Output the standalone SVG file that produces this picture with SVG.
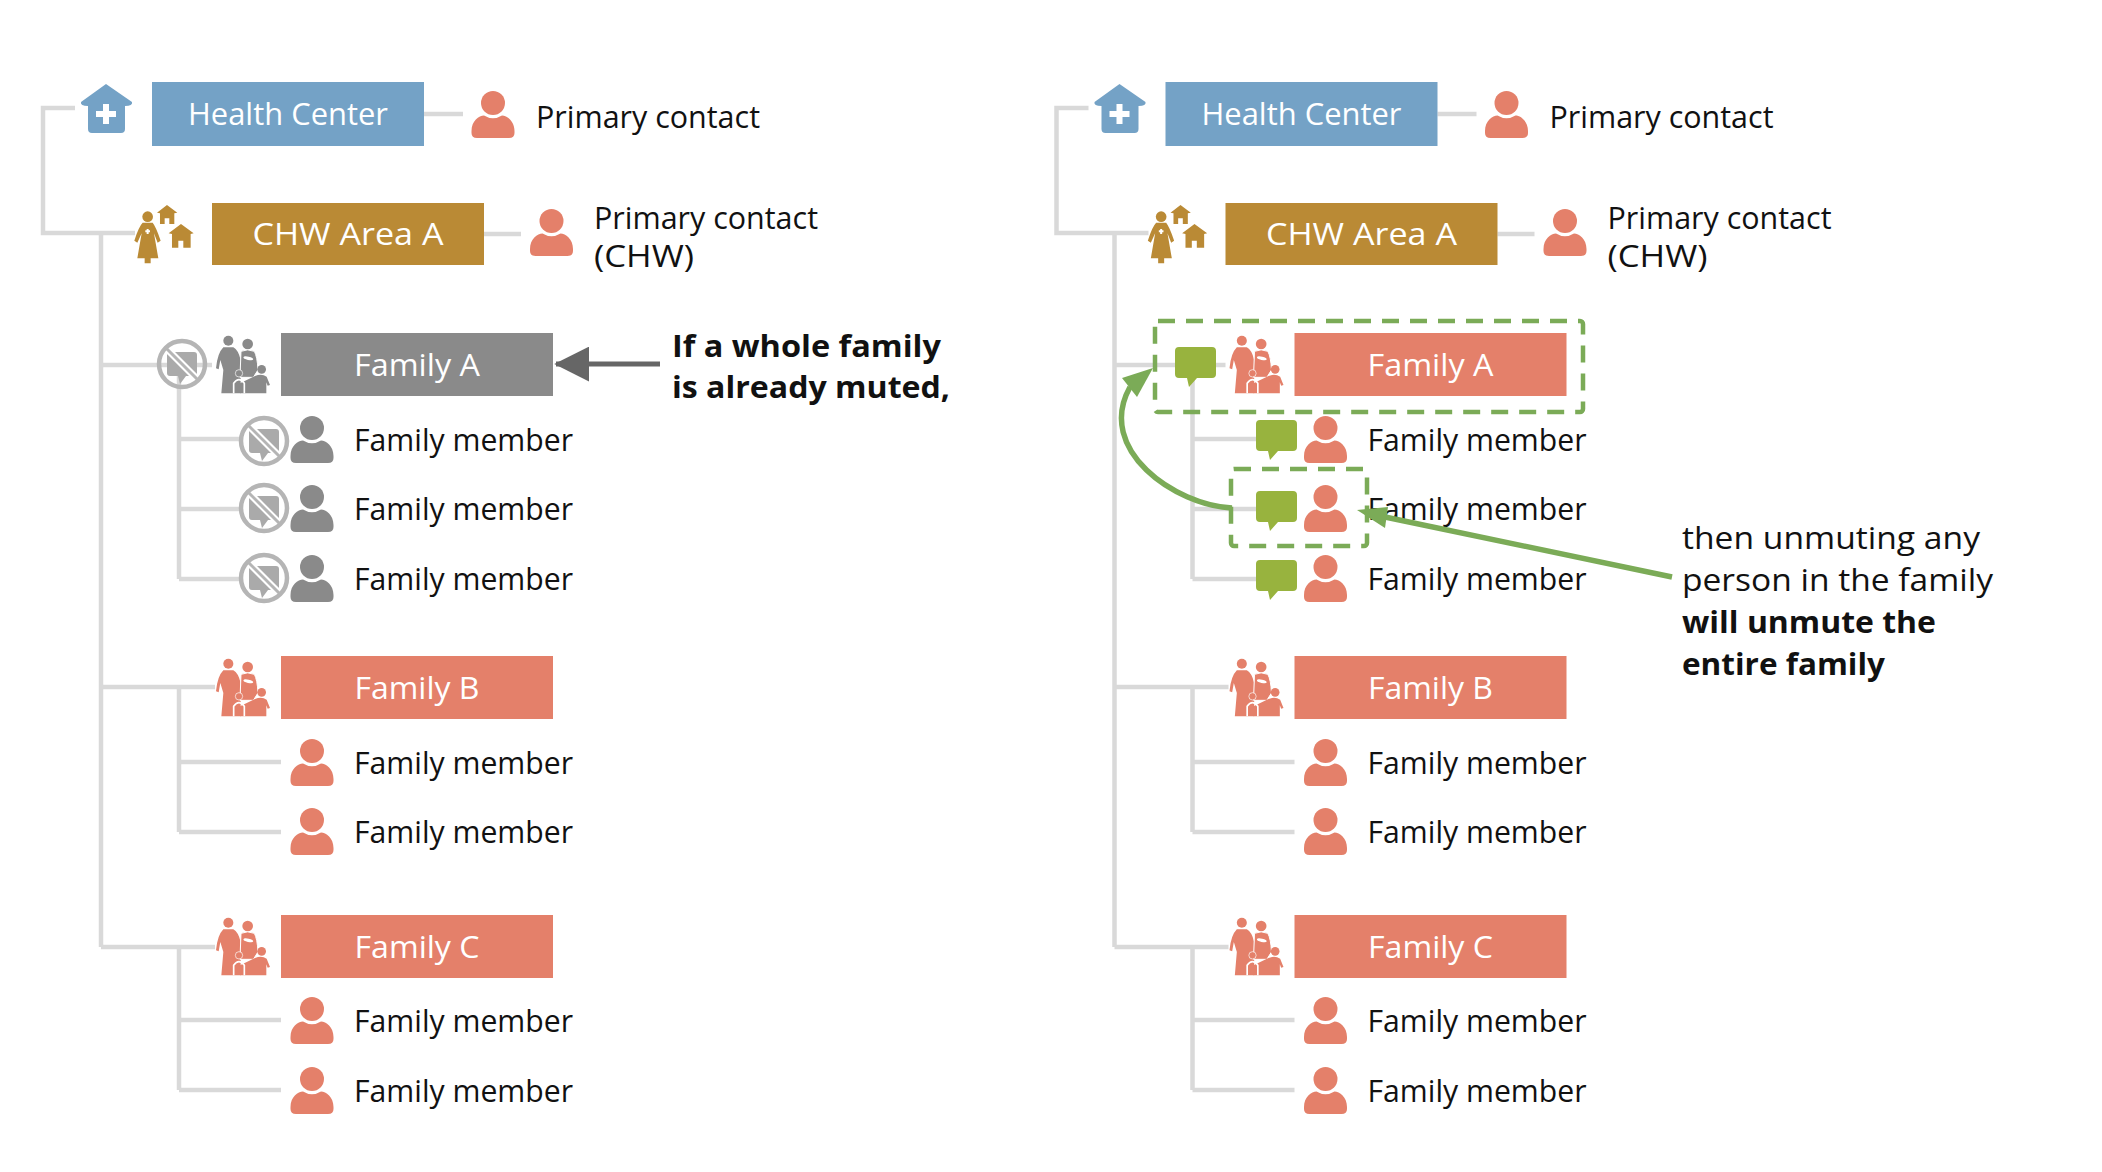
<svg xmlns="http://www.w3.org/2000/svg" width="2102" height="1172" viewBox="0 0 2102 1172">
<style>
text{font-family:"Open Sans","Noto Sans","Liberation Sans",sans-serif;}
.t{font-size:31px;fill:#111;}
.lab{font-size:31px;fill:#fff;text-anchor:middle;font-weight:500;}
.b{font-weight:700;}
.blue{fill:#74a2c6;}.gold{fill:#ba8a35;}.red{fill:#e4806a;}.gray{fill:#8a8a8a;}.green{fill:#98b33e;}
.conn{fill:none;stroke:#d9d9d9;stroke-width:4.5;}
.dash{fill:none;stroke:#7bab57;stroke-width:4.5;stroke-dasharray:17 11;}
.ann{fill:none;stroke:#7bab57;stroke-width:5.5;}
</style>
<defs>
<g id="person"><circle cx="0" cy="0" r="12"/><path d="M-21.5,28C-21.5,18 -14,12.500 -9,12.500Q0,18 9,12.500C14,12.500 21.500,18 21.500,28V30Q21.500,35 16,35H-16Q-21.500,35 -21.500,30Z"/></g>
<g id="bubble"><path d="M4,0H37Q41,0 41,4V27Q41,31 37,31H22L14,40L12,31H4Q0,31 0,27V4Q0,0 4,0Z"/></g>
<g id="muted"><path d="M-12,-12H12Q15,-12 15,-9V9Q15,12 12,12H4L-2,20L-4,12H-12Q-15,12 -15,9V-9Q-15,-12 -12,-12Z" fill="#aaa"/><path d="M-16,-16L16,16" stroke="#fff" stroke-width="7"/><path d="M-17,-17L17,17" stroke="#b5b5b5" stroke-width="3"/><circle r="23" fill="none" stroke="#b5b5b5" stroke-width="4.500"/></g>
<g id="fam" transform="scale(.3333) translate(-228,-48)">
<circle cx="265" cy="62" r="15"/><path d="M250,82L280,82Q295,90 302,120V220H244L250,150L241,120L236,148L228,145Q232,100 250,82Z"/>
<circle cx="323" cy="72" r="16"/><path d="M303,94Q323,85 343,94Q352,110 354,150L340,172H300Z" stroke="#fff" stroke-width="3"/>
<ellipse cx="325" cy="115" rx="15" ry="5" fill="#fff" transform="rotate(12 325 115)"/>
<circle cx="365" cy="148" r="13"/><path d="M345,168Q365,160 380,170L390,195L383,197L379,187V220H300V190L345,168Z"/>
<path d="M281,220V190Q297,168 313,190V220" fill="none" stroke="#fff" stroke-width="5"/><circle cx="297" cy="160" r="11" stroke="#fff" stroke-width="2"/>
</g>
<g id="house"><path d="M106,84L132,102Q133,106 125,106V129Q125,133 121,133H92Q88,133 88,129V106Q80,106 81,102Z"/><path d="M103,104H109V111H116V117H109V124H103V117H96V111H103Z" fill="#fff"/></g>
<g id="chw" transform="translate(30,70) scale(.3333)">
<circle cx="353" cy="440" r="16"/><path d="M338,458H368Q378,470 392,512L383,518L372,490L385,565H362V580H344V565H322L335,490L322,518L313,512Q326,470 338,458Z"/><path d="M350,477H356V481H360V487H356V492H350V487H346V481H350Z" fill="#fff"/>
<path d="M411,405L442,428L433,430V462H418V445H404V462H390V430L381,428Z"/>
<path d="M453,462L491,490L482,492V533H460V512H445V533H426V492L416,490Z"/>
</g>
<marker id="ahg" viewBox="0 0 10 10" refX="9.500" refY="5" markerWidth="7" markerHeight="7" orient="auto"><path d="M0,0L10,5L0,10Z" fill="#666"/></marker>
</defs>

<g id="connectors">
<path class="conn" d="M75,108H43V233H135M101,233V947M101,365H212M179,365V579M179,439H243M179,509H243M179,579H243M101,687H215M179,687V832M179,762H281M179,832H281M101,947H215M179,947V1090M179,1020H281M179,1090H281M424,114H463M484,234H521"/>
<path class="conn" transform="translate(1013.500 0)" d="M75,108H43V233H135M101,233V947M101,365H212M179,365V579M179,439H243M179,509H243M179,579H243M101,687H215M179,687V832M179,762H281M179,832H281M101,947H215M179,947V1090M179,1020H281M179,1090H281M424,114H463M484,234H521"/>
</g>

<g id="left-hc"><use href="#house" class="blue"/><rect class="blue" x="152" y="82" width="272" height="64"/><text class="lab" x="288" y="125" textLength="200" lengthAdjust="spacingAndGlyphs">Health Center</text></g>
<g id="left-hc-contact"><use href="#person" class="red" x="493" y="103"/><text class="t" x="536" y="128" textLength="224" lengthAdjust="spacingAndGlyphs">Primary contact</text></g>
<g id="left-chw"><use href="#chw" class="gold"/><rect class="gold" x="212" y="203" width="272" height="62"/><text class="lab" x="348" y="245" textLength="191" lengthAdjust="spacingAndGlyphs">CHW Area A</text></g>
<g id="left-chw-contact"><use href="#person" class="red" x="551.500" y="221"/><text class="t" x="594" y="229" textLength="224" lengthAdjust="spacingAndGlyphs">Primary contact</text><text class="t" x="594" y="267" textLength="100" lengthAdjust="spacingAndGlyphs">(CHW)</text></g>

<g id="left-fam-a"><use href="#muted" x="182" y="364"/><use href="#fam" class="gray" x="216" y="336"/><rect class="gray" x="281" y="333" width="272" height="63"/><text class="lab" x="417" y="376" textLength="126" lengthAdjust="spacingAndGlyphs">Family A</text></g>
<g id="left-a1"><use href="#muted" x="264" y="441"/><use href="#person" class="gray" x="312" y="428"/><text class="t" x="354" y="451" textLength="219" lengthAdjust="spacingAndGlyphs">Family member</text></g>
<g id="left-a2"><use href="#muted" x="264" y="508"/><use href="#person" class="gray" x="312" y="497"/><text class="t" x="354" y="520" textLength="219" lengthAdjust="spacingAndGlyphs">Family member</text></g>
<g id="left-a3"><use href="#muted" x="264" y="578"/><use href="#person" class="gray" x="312" y="567"/><text class="t" x="354" y="590" textLength="219" lengthAdjust="spacingAndGlyphs">Family member</text></g>
<g id="left-fam-b"><use href="#fam" class="red" x="216" y="659"/><rect class="red" x="281" y="656" width="272" height="63"/><text class="lab" x="417" y="699" textLength="125" lengthAdjust="spacingAndGlyphs">Family B</text></g>
<g id="left-b1"><use href="#person" class="red" x="312" y="751"/><text class="t" x="354" y="774" textLength="219" lengthAdjust="spacingAndGlyphs">Family member</text></g>
<g id="left-b2"><use href="#person" class="red" x="312" y="820"/><text class="t" x="354" y="843" textLength="219" lengthAdjust="spacingAndGlyphs">Family member</text></g>
<g id="left-fam-c"><use href="#fam" class="red" x="216" y="918"/><rect class="red" x="281" y="915" width="272" height="63"/><text class="lab" x="417" y="958" textLength="125" lengthAdjust="spacingAndGlyphs">Family C</text></g>
<g id="left-c1"><use href="#person" class="red" x="312" y="1009"/><text class="t" x="354" y="1032" textLength="219" lengthAdjust="spacingAndGlyphs">Family member</text></g>
<g id="left-c2"><use href="#person" class="red" x="312" y="1079"/><text class="t" x="354" y="1102" textLength="219" lengthAdjust="spacingAndGlyphs">Family member</text></g>

<g id="right-hc" transform="translate(1013.500 0)"><use href="#house" class="blue"/><rect class="blue" x="152" y="82" width="272" height="64"/><text class="lab" x="288" y="125" textLength="200" lengthAdjust="spacingAndGlyphs">Health Center</text></g>
<g id="right-hc-contact" transform="translate(1013.500 0)"><use href="#person" class="red" x="493" y="103"/><text class="t" x="536" y="128" textLength="224" lengthAdjust="spacingAndGlyphs">Primary contact</text></g>
<g id="right-chw" transform="translate(1013.500 0)"><use href="#chw" class="gold"/><rect class="gold" x="212" y="203" width="272" height="62"/><text class="lab" x="348" y="245" textLength="191" lengthAdjust="spacingAndGlyphs">CHW Area A</text></g>
<g id="right-chw-contact" transform="translate(1013.500 0)"><use href="#person" class="red" x="551.500" y="221"/><text class="t" x="594" y="229" textLength="224" lengthAdjust="spacingAndGlyphs">Primary contact</text><text class="t" x="594" y="267" textLength="100" lengthAdjust="spacingAndGlyphs">(CHW)</text></g>

<g id="right-fam-a" transform="translate(1013.500 0)"><use href="#bubble" class="green" x="161.500" y="347"/><use href="#fam" class="red" x="216" y="336"/><rect class="red" x="281" y="333" width="272" height="63"/><text class="lab" x="417" y="376" textLength="126" lengthAdjust="spacingAndGlyphs">Family A</text></g>
<g id="right-a1" transform="translate(1013.500 0)"><use href="#bubble" class="green" x="242.500" y="420"/><use href="#person" class="red" x="312" y="428"/><text class="t" x="354" y="451" textLength="219" lengthAdjust="spacingAndGlyphs">Family member</text></g>
<g id="right-a2" transform="translate(1013.500 0)"><use href="#bubble" class="green" x="242.500" y="491"/><use href="#person" class="red" x="312" y="497"/><text class="t" x="354" y="520" textLength="219" lengthAdjust="spacingAndGlyphs">Family member</text></g>
<g id="right-a3" transform="translate(1013.500 0)"><use href="#bubble" class="green" x="242.500" y="560"/><use href="#person" class="red" x="312" y="567"/><text class="t" x="354" y="590" textLength="219" lengthAdjust="spacingAndGlyphs">Family member</text></g>
<g id="right-fam-b" transform="translate(1013.500 0)"><use href="#fam" class="red" x="216" y="659"/><rect class="red" x="281" y="656" width="272" height="63"/><text class="lab" x="417" y="699" textLength="125" lengthAdjust="spacingAndGlyphs">Family B</text></g>
<g id="right-b1" transform="translate(1013.500 0)"><use href="#person" class="red" x="312" y="751"/><text class="t" x="354" y="774" textLength="219" lengthAdjust="spacingAndGlyphs">Family member</text></g>
<g id="right-b2" transform="translate(1013.500 0)"><use href="#person" class="red" x="312" y="820"/><text class="t" x="354" y="843" textLength="219" lengthAdjust="spacingAndGlyphs">Family member</text></g>
<g id="right-fam-c" transform="translate(1013.500 0)"><use href="#fam" class="red" x="216" y="918"/><rect class="red" x="281" y="915" width="272" height="63"/><text class="lab" x="417" y="958" textLength="125" lengthAdjust="spacingAndGlyphs">Family C</text></g>
<g id="right-c1" transform="translate(1013.500 0)"><use href="#person" class="red" x="312" y="1009"/><text class="t" x="354" y="1032" textLength="219" lengthAdjust="spacingAndGlyphs">Family member</text></g>
<g id="right-c2" transform="translate(1013.500 0)"><use href="#person" class="red" x="312" y="1079"/><text class="t" x="354" y="1102" textLength="219" lengthAdjust="spacingAndGlyphs">Family member</text></g>

<g id="note-left"><text class="t b" x="672" y="357" textLength="269" lengthAdjust="spacingAndGlyphs">If a whole family</text><text class="t b" x="672" y="398" textLength="278" lengthAdjust="spacingAndGlyphs">is already muted,</text></g>
<g id="note-right"><text class="t" x="1682" y="549" textLength="298" lengthAdjust="spacingAndGlyphs">then unmuting any</text><text class="t" x="1682" y="591" textLength="311" lengthAdjust="spacingAndGlyphs">person in the family</text><text class="t b" x="1682" y="633" textLength="254" lengthAdjust="spacingAndGlyphs">will unmute the</text><text class="t b" x="1682" y="675" textLength="203" lengthAdjust="spacingAndGlyphs">entire family</text></g>

<g id="annotations">
<rect class="dash" x="1155" y="321" width="428" height="91" rx="3"/>
<rect class="dash" x="1231" y="469" width="136" height="77" rx="3"/>
<path d="M660,364H556" fill="none" stroke="#666" stroke-width="5" marker-end="url(#ahg)"/>
<path class="ann" d="M1232,508C1175,505 1095,450 1130,387"/>
<path d="M1153,368L1122,378L1137,397Z" fill="#7bab57"/>
<path class="ann" d="M1672,577L1385,517"/>
<path d="M1357,510L1388,507L1385,528Z" fill="#7bab57"/>
</g>
</svg>
